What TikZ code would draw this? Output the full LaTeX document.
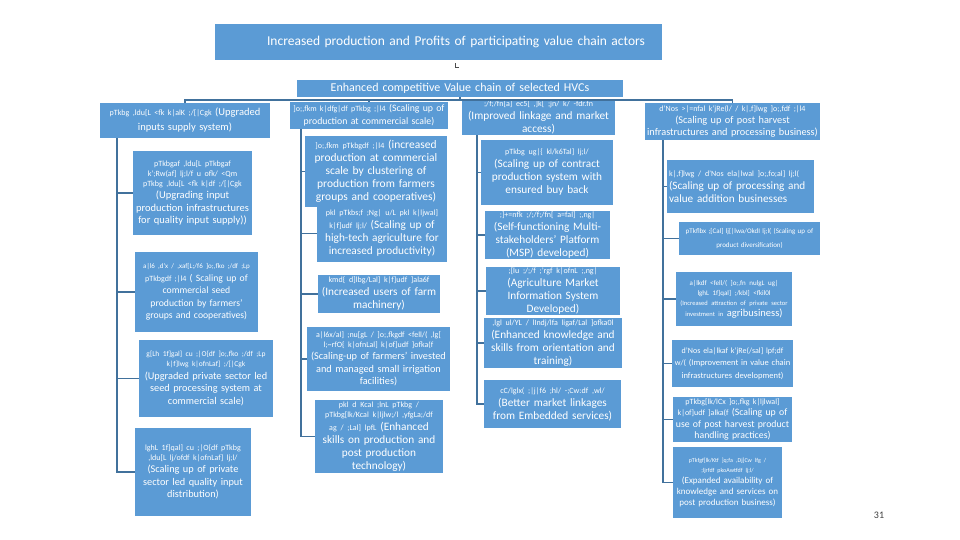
\documentclass[tikz,border=0pt]{standalone}
\usepackage{fontspec}
\setmainfont{Carlito}
\definecolor{boxblue}{HTML}{5B9BD5}
\definecolor{linkblue}{HTML}{41719C}
\newcommand\npx[2][8]{{\fontsize{#1}{10}\selectfont #2\par}}
\newcommand\npy[2][8]{{\fontsize{#1}{10}\selectfont #2}}
\tikzset{
  x=1pt, y=-1pt,
  bx/.style={fill=boxblue, text=white, inner xsep=2pt, inner ysep=1pt, align=center,
    font=\fontsize{10}{12.5}\selectfont},
  conn/.style={draw=linkblue, line width=1.6pt},
  fs/.style={font=\fontsize{#1}{12.5}\selectfont},
  fsB/.style={font=\fontsize{11.3}{13}\selectfont},
}
\newcommand\Bx[7]{%
  \pgfmathsetmacro\bw{#4-#2}\pgfmathsetmacro\bh{#5-#3}\pgfmathsetmacro\tw{#4-#2-4}%
  \node[bx, minimum width=\bw pt, minimum height=\bh pt, text width=\tw pt, #6] (#1)
    at ({(#2+#4)/2},{(#3+#5)/2}) {#7};}
\begin{document}
\begin{tikzpicture}
\useasboundingbox (0,0) rectangle (960,540);
\fill[white] (0,0) rectangle (960,540);
% top
\node[bx, minimum width=447pt, minimum height=36pt, text width=413pt, inner xsep=17pt,
  align=right, font=\fontsize{13.5}{15}\selectfont] (top) at (438.5,42)
  {Increased production and Profits of participating value chain actors};
\Bx{hv}{297}{80}{623}{97}{font=\fontsize{12}{13}\selectfont}{Enhanced competitive Value chain of selected HVCs}
% column 1
\Bx{c1h}{100}{103}{270}{138}{font=\fontsize{10.5}{15}\selectfont}{\npy{pTkbg ,ldu[L <fk k|alK ;/[|Cgk} (Upgraded\\ inputs supply system)}
\Bx{c1a}{133}{151}{252}{235}{fs=10.5}{\npx{pTkbgaf ,ldu[L pTkbgaf\\ k';Rw(af] lj;l/f u ofk/ <Qm\\ pTkbg ,ldu[L <fk k|df ;/[|Cgk}(Upgrading input\\ production infrastructures\\ for quality input supply))}
\Bx{c1b}{135}{252}{258}{332}{fs=9.7}{\npx[7]{a|l6 ,d'x / ,xaf[L;/f6 ]o;,fko ;/df ;Lp}\npy{pTkbgdf ;|l4} ( Scaling up of\\ commercial seed\\ production by farmers'\\ groups and cooperatives)}
\Bx{c1c}{139}{340}{273}{417}{fs=10.3}{\npx[7.5]{g[Lh 1f]gal] cu ;|O\{df ]o;,fko ;/df ;Lp\\ k|f]lwg k|ofnLaf] ;/[|Cgk}(Upgraded private sector led\\ seed processing system at\\ commercial scale)}
\Bx{c1d}{135}{428}{251}{516}{fs=10.3}{\npx{lghL 1f]qal] cu ;|O\{df pTkbg\\ ,ldu[L lj/ofdf k|ofnLaf] lj;l/}(Scaling up of private\\ sector led quality input\\ distribution)}
% column 2
\Bx{c2h}{290}{102}{448}{129}{font=\fontsize{9.8}{13}\selectfont}{\npy{]o;,fkm k|dfg|df pTkbg ;|l4} (Scaling up of\\ production at commercial scale)}
\Bx{c2a}{305}{136}{447}{207}{font=\fontsize{11.5}{13}\selectfont}{\npy{]o;,fkm pTkbgdf ;|l4} (increased\\ production at commercial\\ scale by clustering of\\ production from farmers\\ groups and cooperatives)}
\Bx{c2b}{317}{205}{447}{262}{fsB}{\npx{pkl pTkbs;f ;Ng| u/L pkl k|ljwal]}\npy{k|f]udf lj;l/} (Scaling up of\\ high-tech agriculture for\\ increased productivity)}
\Bx{c2c}{318}{275}{440}{313}{fsB}{\npx{kmd\{ d]lbg/Lal] k|f]udf ]ala6f}(Increased users of farm\\ machinery)}
\Bx{c2d}{307}{327}{450}{391}{font=\fontsize{10.3}{12.5}\selectfont}{\npx{a|l6x/al] ;nu[gL / ]o;,fkgdf <fell/( ,lg[\\ l;\textasciitilde rfO\{ k|ofnLal] k|of]udf ]ofka(f}(Scaling-up of farmers' invested\\ and managed small irrigation\\ facilities)}
\Bx{c2e}{315}{400}{443}{473}{fsB}{\npx{pkl d Kcal ;lnL pTkbg /\\ pTkbg[lk/Kcal k|ljlw;/l ,yfgLa;/df}\npy{ag / ;Lal] lpfL} (Enhanced\\ skills on production and\\ post production\\ technology)}
% column 3
\Bx{c3h}{462}{102}{615}{133}{fsB}{\npx{;/f;/fn[a] ec5[ ,]k[ ;jn/ k/ -fdr.fn}(Improved linkage and market\\ access)}
\Bx{c3a}{481}{140}{613}{205}{fsB}{\npx{pTkbg ug|\{ kl/k6Tal] lj;l/}(Scaling up of contract\\ production system with\\ ensured buy back}
\Bx{c3b}{485}{212}{610}{258}{fsB}{\npx{;]+=nfk ;/;/f;/fn[ a=fal] ;,ng|}(Self-functioning Multi-\\ stakeholders' Platform\\ (MSP) developed)}
\Bx{c3c}{486}{270}{620}{312}{fsB}{\npx{;[lu ;/;/f ;'rgf k|ofnL ;,ng|}(Agriculture Market\\ Information System\\ Developed)}
\Bx{c3d}{484}{318}{622}{368}{fsB}{\npx{,lgl ul/YL / lIndj/lfa ligaf/Lal ]ofka0l}(Enhanced knowledge and\\ skills from orientation and\\ training)}
\Bx{c3e}{484}{380}{621}{428}{fsB}{\npx{cC/lglx( ;|j|f6 ;hl/ -;Cw:df ,wl/}(Better market linkages\\ from Embedded services)}
% column 4
\Bx{c4h}{645}{103}{820}{140}{font=\fontsize{10.3}{12}\selectfont}{\npx{d'Nos >|=nfal k'jRe(l/ / k|,f]lwg ]o;,fdf ;|l4}(Scaling up of post harvest\\ infrastructures and processing business)}
\Bx{c4a}{667}{160}{814}{213}{font=\fontsize{11.2}{13}\selectfont, align=left}{\npx{k|,f]lwg / d'Nos ela|lwal ]o;,fo;al] lj;l(}(Scaling up of processing and\\ value addition businesses}
\Bx{c4b}{679}{222}{820}{255}{font=\fontsize{7}{14}\selectfont}{pTkflbx ;[Cal] lj[|lwa/OkdI lj;l( (Scaling up of\\ product diversification)}
\Bx{c4c}{676}{272}{792}{326}{font=\fontsize{10.5}{11}\selectfont}{\npx[7]{a|lkdf <fell/( ]o;,fn nulgL ug|\\ lghL 1f]qal] ;/kbl] <fkil0l}{\fontsize{6.5}{10}\selectfont (Increased attraction of private sector\\ investment in} agribusiness)}
\Bx{c4d}{672}{340}{793}{387}{font=\fontsize{8.5}{12.5}\selectfont}{\npx{d'Nos ela|lkaf k'jRe(/sal] lpf;df}\npy{w/(} (Improvement in value chain\\ infrastructures development)}
\Bx{c4e}{673}{397}{792}{442}{font=\fontsize{9.8}{11.5}\selectfont}{\npx{pTkbg[lk/lCx ]o;,fkg k|ljlwal]}\npy{k|of]udf ]alka(f} (Scaling up of\\ use of post harvest product\\ handling practices)}
\Bx{c4f}{673}{447}{782}{518}{font=\fontsize{9}{11}\selectfont}{{\fontsize{6}{10}\selectfont pTkfgf[lk/Ktf ]q;fa ,Dj]Cw lfg /\\ ;ljrfdf pkoAwtfdf lj;l/\par}(Expanded availability of\\ knowledge and services on\\ post production business)}
% page number
\node[font=\fontsize{10}{12}\selectfont, text=black!75] (pg) at (879,515) {31};
% connectors
\coordinate (tr) at (0,100);
\coordinate (v1) at (117,0);
\coordinate (v2) at (301,0);
\coordinate (v3) at (477,0);
\coordinate (v4) at (663,0);
\draw[line width=0.8pt, black!70] ([xshift=16.5pt,yshift=-3pt]top.south) -- ++(0,4) -- ++(4,0);
\draw[conn] (hv.south) -- (hv.south |- tr);
\draw[conn] (c1h.north) |- (tr -| c4h.north) -- (c4h.north);
\draw[conn] (c2h.north) -- (c2h.north |- tr);
\draw[conn] (c3h.north) -- (c3h.north |- tr);
\draw[conn] (c1h.south -| v1) |- (c1d.west);
\foreach \b in {c1a,c1b,c1c} \draw[conn] (\b.west -| v1) -- (\b.west);
\draw[conn] (c2h.south -| v2) |- (c2e.west);
\foreach \b in {c2a,c2b,c2c,c2d} \draw[conn] (\b.west -| v2) -- (\b.west);
\draw[conn] (c3h.south -| v3) |- (c3e.west);
\foreach \b in {c3a,c3b,c3c,c3d} \draw[conn] (\b.west -| v3) -- (\b.west);
\draw[conn] (c4h.south -| v4) |- (c4f.west);
\foreach \b in {c4a,c4b,c4c,c4d,c4e} \draw[conn] (\b.west -| v4) -- (\b.west);
\end{tikzpicture}
\end{document}
